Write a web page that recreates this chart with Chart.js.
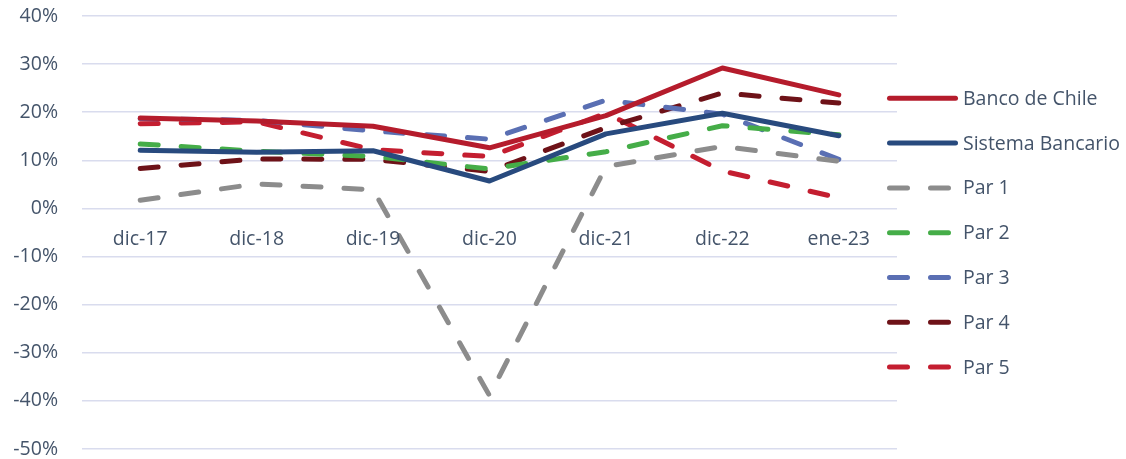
<!DOCTYPE html>
<html><head><meta charset="utf-8">
<script src="https://cdn.jsdelivr.net/npm/chart.js@4"></script>
<style>html,body{margin:0;padding:0;background:#fff}#wrap{width:1126px;height:459px;position:relative}</style>
</head><body><div id="wrap"><canvas id="c" width="1126" height="459"></canvas></div>
<script>
const categories = ['dic-17','dic-18','dic-19','dic-20','dic-21','dic-22','ene-23'];
const seriesNames = ['Banco de Chile','Sistema Bancario','Par 1','Par 2','Par 3','Par 4','Par 5'];
const bancoDeChile    = [18.8, 18.2, 17.1, 12.6, 19.3, 29.2, 23.6];
const sistemaBancario = [12.1, 11.7, 12.0,  5.7, 15.5, 19.8, 15.1];
const par1            = [ 1.7,  5.1,  3.9,-38.9,  8.7, 12.9,  9.8];
const par2            = [13.4, 11.9, 10.8,  8.2, 11.8, 17.2, 15.3];
const par3            = [18.7, 18.3, 16.1, 14.4, 22.5, 19.6, 10.2];
const par4            = [ 8.3, 10.3, 10.2,  7.7, 16.8, 24.0, 21.9];
const par5            = [17.6, 18.0, 12.2, 10.8, 19.8,  7.8,  2.2];
const yMin = -50, yMax = 40, yStep = 10;

const colors = ['#B51C2C','#284A7E','#8C8C8C','#45AD48','#5A6FB3','#6E1218','#C41E30'];
const values = [bancoDeChile, sistemaBancario, par1, par2, par3, par4, par5];
const dashed = [false,false,true,true,true,true,true];
const DASH = [18, 23];
const textColor = '#44546A';
const FONT = "'Open Sans', 'Noto Sans', sans-serif";
const FSIZE = 19.5;

const datasets = values.map((v,i)=>({
  label: seriesNames[i],
  data: v,
  borderColor: colors[i],
  backgroundColor: colors[i],
  borderWidth: 5,
  borderDash: dashed[i] ? DASH : [],
  borderCapStyle: 'round',
  borderJoinStyle: 'round',
  pointRadius: 0,
  tension: 0,
  fill: false,
  order: i
}));

const labelsPlugin = {
  id: 'xLabelsAndLegend',
  afterDraw(chart) {
    const ctx = chart.ctx;
    const ca = chart.chartArea;
    const xs = chart.scales.x, ys = chart.scales.y;
    ctx.save();
    ctx.font = FSIZE + 'px ' + FONT;
    ctx.fillStyle = textColor;
    ctx.textAlign = 'center';
    ctx.textBaseline = 'middle';
    const yLab = ys.getPixelForValue(0) + 31;
    chart.data.labels.forEach((lab, i) => {
      ctx.fillText(lab, xs.getPixelForValue(i), yLab);
    });
    const x0 = ca.right - 10;
    const y0 = 98.3;
    const rowH = 44.8;
    chart.data.datasets.forEach((ds, i) => {
      const y = y0 + i * rowH;
      ctx.beginPath();
      ctx.strokeStyle = ds.borderColor;
      ctx.lineWidth = 5;
      ctx.lineCap = 'round';
      ctx.setLineDash(ds.borderDash || []);
      ctx.moveTo(x0 + 2.5, y);
      ctx.lineTo(x0 + 68.5, y);
      ctx.stroke();
      ctx.setLineDash([]);
      ctx.fillStyle = textColor;
      ctx.textBaseline = 'middle';
      ctx.textAlign = 'left';
      ctx.fillText(ds.label, x0 + 76, y + 1);
    });
    ctx.restore();
  }
};

new Chart(document.getElementById('c'), {
  type: 'line',
  data: { labels: categories, datasets },
  options: {
    responsive: false,
    devicePixelRatio: 1,
    animation: false,
    layout: { padding: { left: 0, top: 16, right: 229, bottom: 10 } },
    plugins: { legend: { display: false }, tooltip: { enabled: false } },
    scales: {
      x: {
        display: false,
        offset: true
      },
      y: {
        min: yMin, max: yMax,
        afterFit(s) { s.width = 82; s.paddingTop = 8; s.paddingBottom = 8; },
        grid: { color: '#D9DCEE', lineWidth: 1.5, drawTicks: false },
        border: { display: false },
        ticks: { stepSize: yStep, color: textColor, font: { family: FONT, size: FSIZE }, padding: 24, callback: v => v + '%' }
      }
    }
  },
  plugins: [labelsPlugin]
});
</script></body></html>
